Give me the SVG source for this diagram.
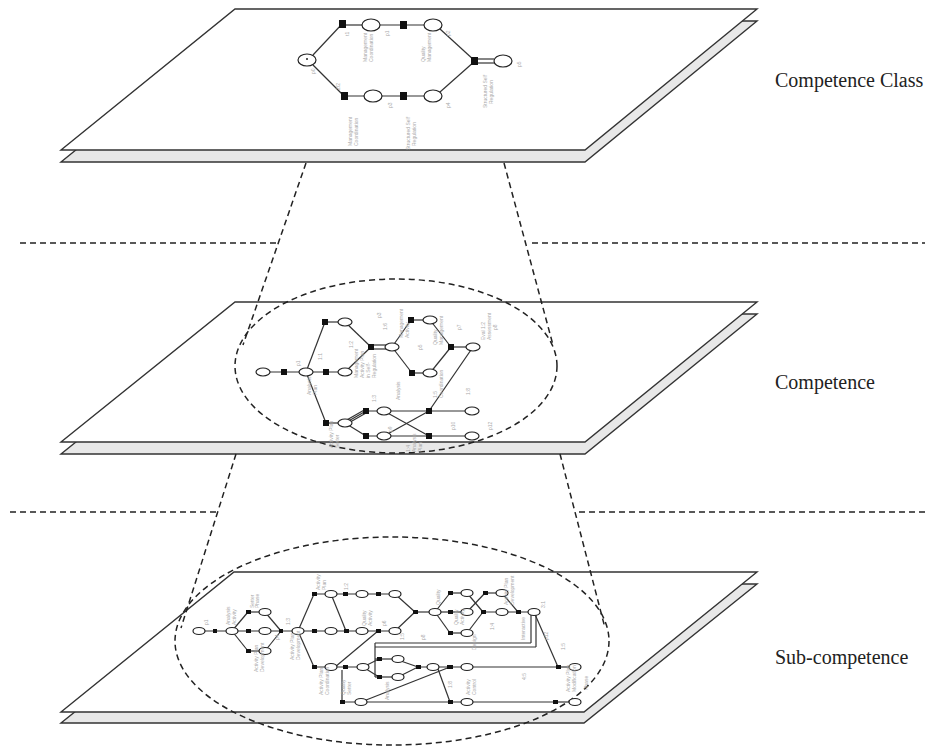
<svg xmlns="http://www.w3.org/2000/svg" width="938" height="749" viewBox="0 0 938 749">
<style>
.back{fill:#e8e8e8;stroke:#333;stroke-width:1.4;stroke-linejoin:miter}
.front{fill:#fff;stroke:#333;stroke-width:1.4;stroke-linejoin:miter}
.dash{fill:none;stroke:#222;stroke-width:1.5;stroke-dasharray:6 4}
.lbl{font-family:"Liberation Serif",serif;font-size:20px;fill:#222}
.e{stroke:#333;stroke-width:1.2;fill:none}
.pl{fill:#fff;stroke:#222;stroke-width:1.2}
.tr{fill:#111}
.g{font-family:"Liberation Sans",sans-serif;font-size:5px;fill:#aaa}
</style>

<!-- Planes -->
<g id="plane-class">
  <polygon class="back" points="235,21 757,21 585,162 61,162"/>
  <polygon class="front" points="235,9 757,9 585,150 61,150"/>
</g>
<g id="plane-competence">
  <polygon class="back" points="235,314 757,314 585,454 61,454"/>
  <polygon class="front" points="235,302 757,302 585,442 61,442"/>
</g>
<g id="plane-sub">
  <polygon class="back" points="234,584 757,584 584,723 61,723"/>
  <polygon class="front" points="234,572 757,572 584,712 61,712"/>
</g>

<!-- Connectors: dashed separators, funnels and ellipses -->
<g id="connectors">
  <line class="dash" x1="20" y1="243" x2="277" y2="243"/>
  <line class="dash" x1="532" y1="243" x2="925" y2="243"/>
  <line class="dash" x1="10" y1="512" x2="217" y2="512"/>
  <line class="dash" x1="579" y1="512" x2="925" y2="512"/>
  <line class="dash" x1="306" y1="163" x2="243" y2="345"/>
  <line class="dash" x1="504" y1="163" x2="553" y2="345"/>
  <line class="dash" x1="236" y1="454" x2="181" y2="628"/>
  <line class="dash" x1="560" y1="454" x2="605" y2="628"/>
  <ellipse class="dash" cx="396" cy="366" rx="161" ry="87"/>
  <ellipse class="dash" cx="392" cy="641" rx="217" ry="104"/>
</g>

<!-- Top graph: competence class -->
<g id="graph-class">
  <g class="e">
    <line x1="313" y1="55" x2="342" y2="24"/>
    <line x1="342" y1="25" x2="362" y2="25"/>
    <line x1="380" y1="25" x2="424" y2="25"/>
    <line x1="440" y1="29" x2="475" y2="61"/>
    <line x1="313" y1="65" x2="344" y2="96"/>
    <line x1="344" y1="96" x2="424" y2="96"/>
    <line x1="440" y1="92" x2="475" y2="61"/>
    <line x1="475" y1="59" x2="494" y2="59"/>
    <line x1="475" y1="63" x2="494" y2="63"/>
  </g>
  <ellipse class="pl" cx="307" cy="60" rx="9" ry="6"/>
  <circle cx="307" cy="59" r="1" fill="#222"/>
  <ellipse class="pl" cx="371" cy="25" rx="9" ry="6"/>
  <ellipse class="pl" cx="433" cy="25" rx="9" ry="6"/>
  <ellipse class="pl" cx="373" cy="96" rx="9" ry="6"/>
  <ellipse class="pl" cx="433" cy="96" rx="9" ry="6"/>
  <ellipse class="pl" cx="503" cy="61" rx="9" ry="6"/>
  <rect class="tr" x="339" y="20" width="7" height="8"/>
  <rect class="tr" x="400" y="21" width="7" height="8"/>
  <rect class="tr" x="341" y="92" width="7" height="8"/>
  <rect class="tr" x="400" y="92" width="7" height="8"/>
  <rect class="tr" x="471" y="57" width="7" height="8"/>
  <g class="g">
    <text transform="translate(315,74) rotate(-90)">p0</text>
    <text transform="translate(349,36) rotate(-90)">t1</text>
    <text transform="translate(367,62) rotate(-90)">Management</text>
    <text transform="translate(373,62) rotate(-90)">Coordination</text>
    <text transform="translate(389,36) rotate(-90)">p1</text>
    <text transform="translate(425,62) rotate(-90)">Quality</text>
    <text transform="translate(431,62) rotate(-90)">Management</text>
    <text transform="translate(450,36) rotate(-90)">p2</text>
    <text transform="translate(340,90) rotate(-90)">2/2</text>
    <text transform="translate(352,146) rotate(-90)">Management</text>
    <text transform="translate(358,146) rotate(-90)">Coordination</text>
    <text transform="translate(392,108) rotate(-90)">p3</text>
    <text transform="translate(410,150) rotate(-90)">Structured Self</text>
    <text transform="translate(416,146) rotate(-90)">Regulation</text>
    <text transform="translate(450,108) rotate(-90)">p4</text>
    <text transform="translate(487,108) rotate(-90)">Structured Self</text>
    <text transform="translate(493,104) rotate(-90)">Regulation</text>
    <text transform="translate(521,67) rotate(-90)">p5</text>
  </g>
</g>

<!-- Middle graph: competence -->
<g id="graph-competence">
  <g class="e">
    <line x1="263" y1="372" x2="345" y2="372"/>
    <line x1="306" y1="372" x2="325" y2="322"/>
    <line x1="325" y1="322" x2="345" y2="322"/>
    <line x1="345" y1="322" x2="371" y2="347"/>
    <line x1="345" y1="372" x2="371" y2="347"/>
    <line x1="371" y1="345" x2="392" y2="345"/>
    <line x1="371" y1="349" x2="392" y2="349"/>
    <line x1="392" y1="347" x2="411" y2="320"/>
    <line x1="411" y1="320" x2="430" y2="320"/>
    <line x1="392" y1="347" x2="412" y2="373"/>
    <line x1="412" y1="373" x2="430" y2="373"/>
    <line x1="430" y1="320" x2="451" y2="347"/>
    <line x1="430" y1="373" x2="451" y2="347"/>
    <line x1="451" y1="347" x2="473" y2="347"/>
    <line x1="473" y1="347" x2="429" y2="411"/>
    <line x1="306" y1="372" x2="326" y2="423"/>
    <line x1="326" y1="423" x2="345" y2="423"/>
    <line x1="345" y1="421" x2="366" y2="409"/>
    <line x1="345" y1="423" x2="366" y2="411"/>
    <line x1="345" y1="425" x2="366" y2="413"/>
    <line x1="345" y1="423" x2="366" y2="436"/>
    <line x1="366" y1="411" x2="472" y2="411"/>
    <line x1="366" y1="436" x2="472" y2="436"/>
    <line x1="384" y1="411" x2="429" y2="436"/>
    <line x1="384" y1="436" x2="429" y2="411"/>
  </g>
  <g class="pl">
    <ellipse cx="263" cy="372" rx="7" ry="4"/>
    <ellipse cx="306" cy="372" rx="7" ry="4"/>
    <ellipse cx="345" cy="372" rx="7" ry="4"/>
    <ellipse cx="345" cy="322" rx="7" ry="4"/>
    <ellipse cx="392" cy="347" rx="7" ry="4"/>
    <ellipse cx="430" cy="320" rx="7" ry="4"/>
    <ellipse cx="430" cy="373" rx="7" ry="4"/>
    <ellipse cx="473" cy="347" rx="7" ry="4"/>
    <ellipse cx="345" cy="423" rx="7" ry="4"/>
    <ellipse cx="384" cy="411" rx="7" ry="4"/>
    <ellipse cx="384" cy="436" rx="7" ry="4"/>
    <ellipse cx="472" cy="411" rx="7" ry="4"/>
    <ellipse cx="472" cy="436" rx="7" ry="4"/>
  </g>
  <g class="tr">
    <rect x="281" y="369" width="6" height="6"/>
    <rect x="323" y="369" width="6" height="6"/>
    <rect x="322" y="319" width="6" height="6"/>
    <rect x="368" y="344" width="6" height="6"/>
    <rect x="408" y="317" width="6" height="6"/>
    <rect x="409" y="370" width="6" height="6"/>
    <rect x="448" y="344" width="6" height="6"/>
    <rect x="323" y="420" width="6" height="6"/>
    <rect x="363" y="408" width="6" height="6"/>
    <rect x="363" y="433" width="6" height="6"/>
    <rect x="426" y="408" width="6" height="6"/>
    <rect x="426" y="433" width="6" height="6"/>
  </g>
  <g class="g">
    <text transform="translate(300,366) rotate(-90)">p1</text>
    <text transform="translate(311,395) rotate(-90)">Analysis</text>
    <text transform="translate(317,395) rotate(-90)">Plan</text>
    <text transform="translate(322,360) rotate(-90)">1:1</text>
    <text transform="translate(353,348) rotate(-90)">1:2</text>
    <text transform="translate(358,378) rotate(-90)">Management</text>
    <text transform="translate(364,378) rotate(-90)">Activity Plan</text>
    <text transform="translate(370,378) rotate(-90)">in Self-</text>
    <text transform="translate(376,378) rotate(-90)">Regulation</text>
    <text transform="translate(381,318) rotate(-90)">p3</text>
    <text transform="translate(387,330) rotate(-90)">1:6</text>
    <text transform="translate(403,338) rotate(-90)">Management</text>
    <text transform="translate(409,338) rotate(-90)">Activity</text>
    <text transform="translate(400,400) rotate(-90)">Analysis</text>
    <text transform="translate(422,350) rotate(-90)">p5</text>
    <text transform="translate(437,345) rotate(-90)">Quality</text>
    <text transform="translate(443,345) rotate(-90)">Management</text>
    <text transform="translate(437,398) rotate(-90)">1:5</text>
    <text transform="translate(443,398) rotate(-90)">Coordination</text>
    <text transform="translate(461,330) rotate(-90)">p7</text>
    <text transform="translate(485,340) rotate(-90)">Eval 1:2</text>
    <text transform="translate(491,340) rotate(-90)">Assessment</text>
    <text transform="translate(497,330) rotate(-90)">p8</text>
    <text transform="translate(470,395) rotate(-90)">1:8</text>
    <text transform="translate(333,448) rotate(-90)">Activity Plan</text>
    <text transform="translate(339,448) rotate(-90)">Setter</text>
    <text transform="translate(376,402) rotate(-90)">1:3</text>
    <text transform="translate(392,432) rotate(-90)">p9</text>
    <text transform="translate(410,452) rotate(-90)">1:4</text>
    <text transform="translate(416,452) rotate(-90)">Analysis</text>
    <text transform="translate(422,452) rotate(-90)">Plan</text>
    <text transform="translate(455,430) rotate(-90)">p10</text>
    <text transform="translate(492,430) rotate(-90)">p12</text>
  </g>
</g>

<!-- Bottom graph: sub-competence -->
<g id="graph-sub">
  <g class="e">
    <line x1="199" y1="631" x2="298" y2="631"/>
    <line x1="232" y1="631" x2="248" y2="612"/>
    <line x1="248" y1="612" x2="265" y2="612"/>
    <line x1="232" y1="631" x2="248" y2="651"/>
    <line x1="248" y1="651" x2="265" y2="651"/>
    <line x1="265" y1="612" x2="281" y2="631"/>
    <line x1="265" y1="651" x2="281" y2="631"/>
    <line x1="298" y1="631" x2="314" y2="594"/>
    <line x1="314" y1="594" x2="395" y2="594"/>
    <line x1="298" y1="631" x2="395" y2="631"/>
    <line x1="331" y1="594" x2="346" y2="631"/>
    <line x1="298" y1="631" x2="314" y2="667"/>
    <line x1="314" y1="667" x2="363" y2="667"/>
    <line x1="335" y1="667" x2="378" y2="631"/>
    <line x1="342" y1="670" x2="342" y2="702"/>
    <line x1="342" y1="702" x2="555" y2="702"/>
    <line x1="555" y1="702" x2="575" y2="702"/>
    <line x1="361" y1="702" x2="450" y2="667"/>
    <line x1="395" y1="594" x2="415" y2="612"/>
    <line x1="395" y1="631" x2="415" y2="612"/>
    <line x1="415" y1="612" x2="435" y2="612"/>
    <line x1="435" y1="612" x2="450" y2="593"/>
    <line x1="450" y1="593" x2="467" y2="593"/>
    <line x1="435" y1="612" x2="467" y2="612"/>
    <line x1="435" y1="612" x2="450" y2="633"/>
    <line x1="450" y1="633" x2="467" y2="633"/>
    <line x1="467" y1="593" x2="483" y2="612"/>
    <line x1="467" y1="612" x2="485" y2="593"/>
    <line x1="467" y1="633" x2="483" y2="612"/>
    <line x1="485" y1="593" x2="502" y2="593"/>
    <line x1="483" y1="612" x2="534" y2="612"/>
    <line x1="502" y1="593" x2="518" y2="612"/>
    <line x1="531" y1="612" x2="531" y2="643"/>
    <line x1="536" y1="612" x2="536" y2="647"/>
    <line x1="375" y1="643" x2="531" y2="643"/>
    <line x1="375" y1="647" x2="536" y2="647"/>
    <line x1="375" y1="643" x2="375" y2="677"/>
    <line x1="375" y1="659" x2="398" y2="659"/>
    <line x1="375" y1="677" x2="398" y2="677"/>
    <line x1="363" y1="667" x2="379" y2="659"/>
    <line x1="363" y1="667" x2="379" y2="677"/>
    <line x1="398" y1="660" x2="418" y2="667"/>
    <line x1="398" y1="677" x2="418" y2="667"/>
    <line x1="418" y1="667" x2="558" y2="667"/>
    <line x1="558" y1="667" x2="575" y2="667"/>
    <line x1="534" y1="612" x2="558" y2="667"/>
    <line x1="438" y1="669" x2="450" y2="702"/>
  </g>
  <g class="pl">
    <ellipse cx="199" cy="631" rx="6" ry="3.5"/>
    <ellipse cx="232" cy="631" rx="6" ry="3.5"/>
    <ellipse cx="265" cy="612" rx="6" ry="3.5"/>
    <ellipse cx="265" cy="631" rx="6" ry="3.5"/>
    <ellipse cx="265" cy="651" rx="6" ry="3.5"/>
    <ellipse cx="298" cy="631" rx="6" ry="3.5"/>
    <ellipse cx="331" cy="594" rx="6" ry="3.5"/>
    <ellipse cx="362" cy="594" rx="6" ry="3.5"/>
    <ellipse cx="395" cy="594" rx="6" ry="3.5"/>
    <ellipse cx="331" cy="631" rx="6" ry="3.5"/>
    <ellipse cx="362" cy="631" rx="6" ry="3.5"/>
    <ellipse cx="395" cy="631" rx="6" ry="3.5"/>
    <ellipse cx="331" cy="667" rx="6" ry="3.5"/>
    <ellipse cx="363" cy="667" rx="6" ry="3.5"/>
    <ellipse cx="361" cy="702" rx="6" ry="3.5"/>
    <ellipse cx="398" cy="659" rx="6" ry="3.5"/>
    <ellipse cx="398" cy="677" rx="6" ry="3.5"/>
    <ellipse cx="435" cy="612" rx="6" ry="3.5"/>
    <ellipse cx="467" cy="593" rx="6" ry="3.5"/>
    <ellipse cx="467" cy="612" rx="6" ry="3.5"/>
    <ellipse cx="467" cy="633" rx="6" ry="3.5"/>
    <ellipse cx="502" cy="593" rx="6" ry="3.5"/>
    <ellipse cx="502" cy="612" rx="6" ry="3.5"/>
    <ellipse cx="534" cy="612" rx="6" ry="3.5"/>
    <ellipse cx="433" cy="667" rx="6" ry="3.5"/>
    <ellipse cx="467" cy="667" rx="6" ry="3.5"/>
    <ellipse cx="467" cy="702" rx="6" ry="3.5"/>
    <ellipse cx="575" cy="667" rx="6" ry="3.5"/>
    <ellipse cx="575" cy="702" rx="6" ry="3.5"/>
  </g>
  <g class="tr">
    <rect x="213" y="629" width="4" height="4"/>
    <rect x="246" y="610" width="5" height="4"/>
    <rect x="246" y="629" width="5" height="4"/>
    <rect x="246" y="649" width="5" height="4"/>
    <rect x="279" y="629" width="4" height="4"/>
    <rect x="312" y="592" width="5" height="4"/>
    <rect x="343" y="592" width="5" height="4"/>
    <rect x="376" y="592" width="5" height="4"/>
    <rect x="312" y="629" width="5" height="4"/>
    <rect x="344" y="629" width="5" height="4"/>
    <rect x="376" y="629" width="5" height="4"/>
    <rect x="312" y="665" width="5" height="4"/>
    <rect x="343" y="665" width="5" height="4"/>
    <rect x="340" y="700" width="5" height="4"/>
    <rect x="377" y="657" width="5" height="4"/>
    <rect x="377" y="675" width="5" height="4"/>
    <rect x="413" y="610" width="5" height="4"/>
    <rect x="448" y="591" width="5" height="4"/>
    <rect x="448" y="610" width="5" height="4"/>
    <rect x="448" y="631" width="5" height="4"/>
    <rect x="483" y="591" width="5" height="4"/>
    <rect x="481" y="610" width="5" height="4"/>
    <rect x="516" y="610" width="5" height="4"/>
    <rect x="416" y="665" width="5" height="4"/>
    <rect x="447" y="665" width="6" height="4"/>
    <rect x="448" y="700" width="5" height="4"/>
    <rect x="556" y="665" width="5" height="4"/>
    <rect x="553" y="700" width="5" height="4"/>
  </g>
  <g class="g">
    <text transform="translate(208,625) rotate(-90)">p1</text>
    <text transform="translate(230,625) rotate(-90)">Analysis</text>
    <text transform="translate(236,625) rotate(-90)">Activity</text>
    <text transform="translate(254,608) rotate(-90)">Setter</text>
    <text transform="translate(259,608) rotate(-90)">Phase</text>
    <text transform="translate(258,672) rotate(-90)">Activity Plan</text>
    <text transform="translate(264,672) rotate(-90)">Development</text>
    <text transform="translate(279,640) rotate(-90)">p4</text>
    <text transform="translate(290,625) rotate(-90)">1:3</text>
    <text transform="translate(294,660) rotate(-90)">Activity Plan</text>
    <text transform="translate(300,660) rotate(-90)">Development</text>
    <text transform="translate(320,590) rotate(-90)">Activity</text>
    <text transform="translate(326,590) rotate(-90)">Plan</text>
    <text transform="translate(348,590) rotate(-90)">1:2</text>
    <text transform="translate(366,626) rotate(-90)">Quality</text>
    <text transform="translate(372,626) rotate(-90)">Activity</text>
    <text transform="translate(386,626) rotate(-90)">p6</text>
    <text transform="translate(323,695) rotate(-90)">Activity Plan</text>
    <text transform="translate(329,695) rotate(-90)">Coordination</text>
    <text transform="translate(345,695) rotate(-90)">Quality</text>
    <text transform="translate(351,695) rotate(-90)">Setter</text>
    <text transform="translate(389,700) rotate(-90)">Analysis</text>
    <text transform="translate(404,640) rotate(-90)">1:5</text>
    <text transform="translate(425,640) rotate(-90)">p8</text>
    <text transform="translate(440,605) rotate(-90)">Quality</text>
    <text transform="translate(458,625) rotate(-90)">Quality</text>
    <text transform="translate(464,625) rotate(-90)">Activity</text>
    <text transform="translate(476,650) rotate(-90)">Design</text>
    <text transform="translate(494,630) rotate(-90)">1:4</text>
    <text transform="translate(508,605) rotate(-90)">Activity Plan</text>
    <text transform="translate(514,605) rotate(-90)">Development</text>
    <text transform="translate(525,640) rotate(-90)">Interactive</text>
    <text transform="translate(545,608) rotate(-90)">3:1</text>
    <text transform="translate(548,640) rotate(-90)">p12</text>
    <text transform="translate(565,650) rotate(-90)">1:5</text>
    <text transform="translate(452,688) rotate(-90)">1:8</text>
    <text transform="translate(470,695) rotate(-90)">Activity</text>
    <text transform="translate(476,695) rotate(-90)">Control</text>
    <text transform="translate(526,680) rotate(-90)">4:5</text>
    <text transform="translate(570,692) rotate(-90)">Activity Plan</text>
    <text transform="translate(576,692) rotate(-90)">Modification</text>
    <text transform="translate(588,690) rotate(-90)">Phase</text>
  </g>
</g>

<!-- Layer labels -->
<g id="label-class"><text class="lbl" x="775" y="87">Competence Class</text></g>
<g id="label-competence"><text class="lbl" x="775" y="389">Competence</text></g>
<g id="label-sub"><text class="lbl" x="775" y="664">Sub-competence</text></g>
</svg>
